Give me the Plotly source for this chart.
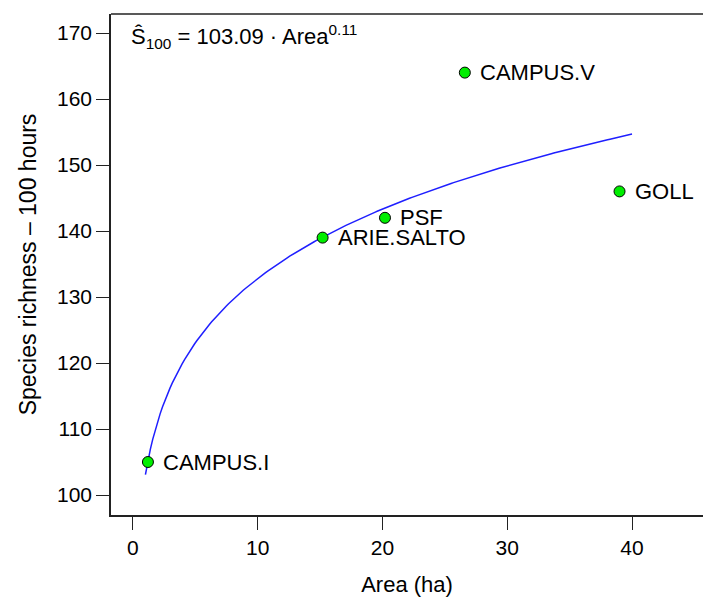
import numpy as np
import plotly.graph_objects as go

# Data
sites = ["CAMPUS.I", "ARIE.SALTO", "PSF", "CAMPUS.V", "GOLL"]
area_ha = [1.2, 15.2, 20.2, 26.6, 39.0]
richness = [105, 139, 142, 164, 146]

# Fitted power model  S100 = a * Area^b  (as printed on the chart)
coef_a = 103.09
coef_b = 0.11
curve_x = np.linspace(1, 40, 200)
curve_y = coef_a * curve_x ** coef_b

x_ticks = [0, 10, 20, 30, 40]
y_ticks = [100, 110, 120, 130, 140, 150, 160, 170]

FONT = "Liberation Sans, Arial, sans-serif"

fig = go.Figure()
fig.add_trace(go.Scatter(x=curve_x, y=curve_y, mode="lines",
                         line=dict(color="#1f1fff", width=1.5),
                         hoverinfo="skip", showlegend=False))
fig.add_trace(go.Scatter(x=area_ha, y=richness, mode="markers",
                         marker=dict(color="#00ee00", size=11,
                                     line=dict(color="black", width=1)),
                         showlegend=False))

for s, xv, yv in zip(sites, area_ha, richness):
    fig.add_annotation(x=xv, y=yv, text=s, showarrow=False,
                       xanchor="left", yanchor="middle", xshift=13,
                       font=dict(family=FONT, size=22, color="black"))

fig.add_annotation(xref="paper", yref="paper", x=0.03, y=0.99,
                   xanchor="left", yanchor="top", showarrow=False,
                   text="Ŝ<sub>100</sub> = 103.09 · Area<sup>0.11</sup>",
                   font=dict(family=FONT, size=22, color="black"))

# top edge of the (cropped) plot box
fig.add_shape(type="line", xref="paper", yref="paper",
              x0=0, x1=1.2, y0=1, y1=1,
              line=dict(color="#222", width=1.5))

fig.update_xaxes(range=[-1.76, 45.69], tickvals=x_ticks,
                 ticktext=[str(v) for v in x_ticks],
                 showline=True, mirror=False, linecolor="#222", linewidth=1.5,
                 ticks="outside", ticklen=13, tickwidth=1.3, tickcolor="#222",
                 showgrid=False, zeroline=False,
                 tickfont=dict(family=FONT, size=21, color="black"),
                 title=dict(text="Area (ha)", standoff=20,
                            font=dict(family=FONT, size=22, color="black")))
fig.update_yaxes(range=[96.97, 172.88], tickvals=y_ticks,
                 ticktext=[str(v) for v in y_ticks],
                 showline=True, mirror=False, linecolor="#222", linewidth=1.5,
                 ticks="outside", ticklen=13, tickwidth=1.3, tickcolor="#222",
                 showgrid=False, zeroline=False,
                 tickfont=dict(family=FONT, size=21, color="black"),
                 title=dict(text="Species richness – 100 hours", standoff=14,
                            font=dict(family=FONT, size=23, color="black")))

fig.update_layout(width=703, height=597,
                  margin=dict(l=111, r=0, t=14, b=82),
                  plot_bgcolor="white", paper_bgcolor="white",
                  showlegend=False)

fig.write_html("out.html",
               config={"displayModeBar": False},
               post_script="document.body.style.margin='0';"
                           "document.body.style.overflow='hidden';")
